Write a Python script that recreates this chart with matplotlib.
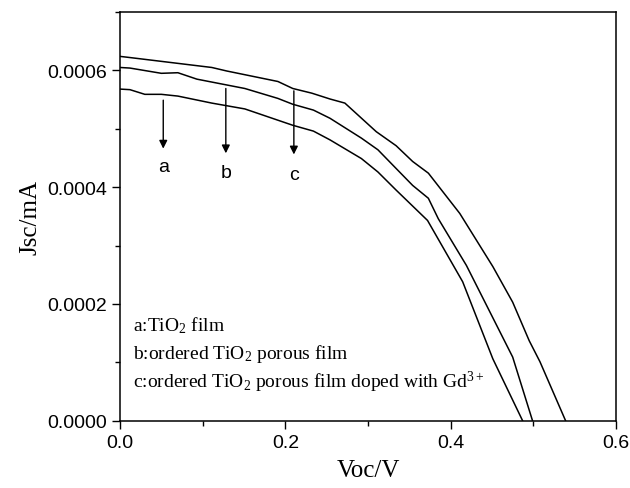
import numpy as np
import matplotlib
matplotlib.use('Agg')
import matplotlib.pyplot as plt
from matplotlib.ticker import MultipleLocator, FormatStrFormatter

# J-V curves (Voc in V, Jsc in mA)
voc_a = [0.0, 0.012, 0.030, 0.050, 0.070, 0.111, 0.151, 0.209, 0.234, 0.254,
         0.292, 0.312, 0.334, 0.372, 0.4145, 0.451, 0.487]
jsc_a = [0.000568, 0.000567, 0.000559, 0.000559, 0.000556, 0.000544, 0.000534,
         0.000506, 0.000496, 0.000481, 0.000449, 0.000426, 0.000395, 0.000343,
         0.000238, 0.000106, 0.0]

voc_b = [0.0, 0.012, 0.050, 0.070, 0.093, 0.151, 0.191, 0.209, 0.234, 0.254,
         0.292, 0.312, 0.334, 0.354, 0.373, 0.385, 0.419, 0.475, 0.499]
jsc_b = [0.000605, 0.000604, 0.000595, 0.000596, 0.000585, 0.000569, 0.000552,
         0.000542, 0.000532, 0.000518, 0.000484, 0.000464, 0.000432, 0.000403,
         0.000381, 0.000346, 0.000266, 0.000109, 0.0]

voc_c = [0.0, 0.012, 0.111, 0.129, 0.191, 0.209, 0.232, 0.254, 0.272, 0.310,
         0.334, 0.354, 0.373, 0.411, 0.451, 0.475, 0.495, 0.508, 0.539]
jsc_c = [0.000624, 0.000622, 0.000605, 0.000599, 0.000581, 0.000569, 0.000561,
         0.000551, 0.000544, 0.000495, 0.000471, 0.000444, 0.000424, 0.000355,
         0.000264, 0.000203, 0.000137, 0.000101, 0.0]

# arrows: label, x, y start, y end, label y
arrow_labels = ['a', 'b', 'c']
arrow_x = [0.0523, 0.128, 0.2103]
arrow_y0 = [0.000549, 0.000569, 0.000565]
arrow_y1 = [0.000466, 0.000458, 0.000456]
label_y = [0.000435, 0.000425, 0.000421]

legend_lines = [r'a:TiO$_2$ film',
                r'b:ordered TiO$_2$ porous film',
                r'c:ordered TiO$_2$ porous film doped with Gd$^{3+}$']
legend_y = [0.000154, 0.000107, 0.0000578]

plt.rcParams['mathtext.fontset'] = 'custom'
plt.rcParams['mathtext.rm'] = 'Liberation Serif'
plt.rcParams['mathtext.it'] = 'Liberation Serif'

fig = plt.figure(figsize=(6.3, 4.89), dpi=100)
ax = fig.add_axes([0.1905, 0.1376, 0.7873, 0.8358])

for v, j in [(voc_a, jsc_a), (voc_b, jsc_b), (voc_c, jsc_c)]:
    ax.plot(v, j, color='black', lw=1.1)

for lab, x, y0, y1, ly in zip(arrow_labels, arrow_x, arrow_y0, arrow_y1, label_y):
    ax.annotate('', xy=(x, y1), xytext=(x, y0),
                arrowprops=dict(arrowstyle='-|>', color='black', lw=1.0,
                                mutation_scale=12, shrinkA=0, shrinkB=0))
    ax.text(x, ly, lab, ha='center', va='center', fontsize=14,
            family='Liberation Sans')

for txt, y in zip(legend_lines, legend_y):
    ax.text(0.016, y, txt, ha='left', va='baseline', fontsize=14,
            family='Liberation Serif')

ax.set_xlim(0, 0.6)
ax.set_ylim(0, 0.0007)
ax.xaxis.set_major_locator(MultipleLocator(0.2))
ax.xaxis.set_minor_locator(MultipleLocator(0.1))
ax.yaxis.set_major_locator(MultipleLocator(0.0002))
ax.yaxis.set_minor_locator(MultipleLocator(0.0001))
ax.xaxis.set_major_formatter(FormatStrFormatter('%.1f'))
ax.yaxis.set_major_formatter(FormatStrFormatter('%.4f'))
ax.tick_params(which='major', direction='out', length=6, width=1.0,
               labelsize=14, top=False, right=False)
ax.tick_params(which='minor', direction='out', length=3.5, width=1.0,
               top=False, right=False)
for lbl in ax.get_xticklabels() + ax.get_yticklabels():
    lbl.set_family('Liberation Sans')
for s in ax.spines.values():
    s.set_linewidth(1.1)

ax.set_xlabel('Voc/V', fontsize=18, family='Liberation Serif', labelpad=6)
ax.set_ylabel('Jsc/mA', fontsize=18, family='Liberation Serif', labelpad=4)

fig.savefig('out.png', dpi=100)
